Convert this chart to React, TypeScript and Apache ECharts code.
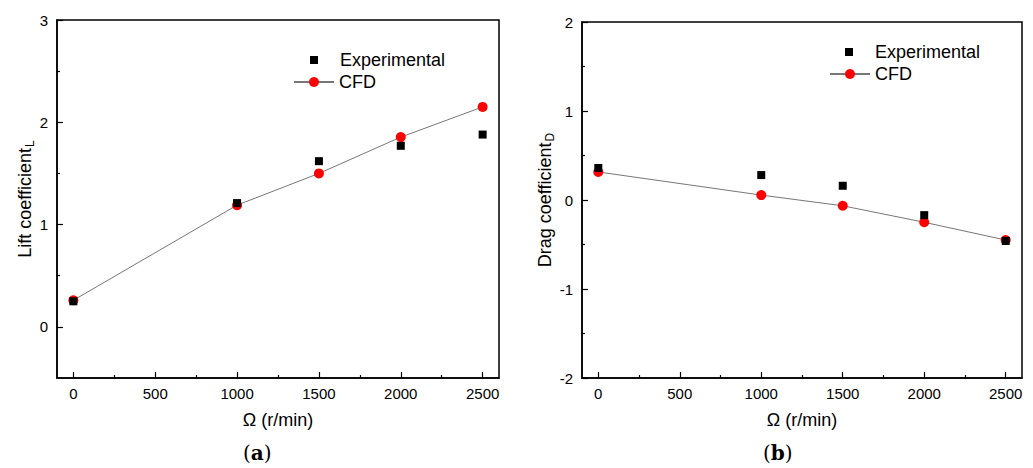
import React, { useEffect, useRef } from "react";
import * as echarts from "echarts";

const omega = [0, 1000, 1500, 2000, 2500];
const liftExp = [0.25, 1.21, 1.62, 1.77, 1.88];
const liftCfd = [0.26, 1.19, 1.5, 1.855, 2.15];
const dragExp = [0.36, 0.28, 0.16, -0.17, -0.46];
const dragCfd = [0.315, 0.055, -0.065, -0.25, -0.45];

const xTicks = [0, 500, 1000, 1500, 2000, 2500];
const xMinor = [250, 750, 1250, 1750, 2250];
const liftTicks = [0, 1, 2, 3];
const liftMinor = [0.5, 1.5, 2.5];
const dragTicks = [-2, -1, 0, 1, 2];
const dragMinor = [-1.5, -0.5, 0.5, 1.5];

const FONT = "'Liberation Sans', Arial, sans-serif";

function pairs(xs: number[], ys: number[]) {
  return xs.map((x, i) => [x, ys[i]]);
}

export default function App() {
  const ref = useRef<HTMLDivElement>(null);
  useEffect(() => {
    document.body.style.margin = "0";
    const chart = echarts.init(ref.current!, null, { renderer: "svg" });
    const plain = (v: number) => String(v);
    const majorX = (grid: number) => ({
      type: "value",
      gridIndex: grid,
      min: -100,
      max: 2600,
      name: "Ω (r/min)",
      nameLocation: "middle",
      nameGap: 33,
      nameTextStyle: { fontSize: 18, color: "#000", fontFamily: FONT },
      axisLine: { show: true, onZero: false, lineStyle: { color: "#000", width: 1.5 } },
      axisTick: { show: true, inside: true, length: 6, customValues: xTicks, lineStyle: { color: "#000", width: 1.2 } },
      axisLabel: { customValues: xTicks, formatter: plain, fontSize: 15, color: "#000", fontFamily: FONT, margin: 8 },
      splitLine: { show: false },
    });
    const minorX = (grid: number) => ({
      type: "value",
      gridIndex: grid,
      min: -100,
      max: 2600,
      position: "bottom",
      axisLine: { show: false, onZero: false },
      axisTick: { show: true, inside: true, length: 3, customValues: xMinor, lineStyle: { color: "#000", width: 1.2 } },
      axisLabel: { show: false },
      splitLine: { show: false },
    });
    const majorY = (grid: number, min: number, max: number, ticks: number[], sub: string, base: string, gap: number) => ({
      type: "value",
      gridIndex: grid,
      min,
      max,
      name: base + "{s|" + sub + "}",
      nameLocation: "middle",
      nameGap: gap,
      nameTextStyle: {
        fontSize: 18,
        color: "#000",
        fontFamily: FONT,
        rich: { s: { fontSize: 12, color: "#000", fontFamily: FONT, verticalAlign: "bottom", padding: [10, 0, 0, 1] } },
      },
      axisLine: { show: true, onZero: false, lineStyle: { color: "#000", width: 1.5 } },
      axisTick: { show: true, inside: true, length: 6, customValues: ticks, lineStyle: { color: "#000", width: 1.2 } },
      axisLabel: { customValues: ticks, formatter: plain, fontSize: 15, color: "#000", fontFamily: FONT, margin: 9 },
      splitLine: { show: false },
    });
    const minorY = (grid: number, min: number, max: number, ticks: number[]) => ({
      type: "value",
      gridIndex: grid,
      min,
      max,
      position: "left",
      axisLine: { show: false, onZero: false },
      axisTick: { show: true, inside: true, length: 3, customValues: ticks, lineStyle: { color: "#000", width: 1.2 } },
      axisLabel: { show: false },
      splitLine: { show: false },
    });
    const legendText = { fontSize: 18, color: "#000", fontFamily: FONT, rich: { g: { width: 17 } } };
    const expLegend = (left: number, top: number) => ({
      data: ["Experimental"], left, top, padding: 0, orient: "vertical", itemWidth: 8, itemHeight: 8,
      textStyle: legendText, formatter: "{g|}{name}", selectedMode: false,
    });
    const cfdLegend = (left: number, top: number) => ({
      data: ["CFD"], left, top, padding: 0, orient: "vertical", itemWidth: 40, itemHeight: 12.5,
      textStyle: { fontSize: 18, color: "#000", fontFamily: FONT }, selectedMode: false,
    });
    const option: any = {
      animation: false,
      backgroundColor: "#fff",
      grid: [
        { left: 57, right: 534, top: 20, bottom: 90, show: true, borderColor: "#000", borderWidth: 1.5, backgroundColor: "transparent" },
        { left: 582, right: 11, top: 22, bottom: 90, show: true, borderColor: "#000", borderWidth: 1.5, backgroundColor: "transparent" },
      ],
      xAxis: [majorX(0), minorX(0), majorX(1), minorX(1)],
      yAxis: [
        majorY(0, -0.5, 3, liftTicks, "L", "Lift coefficient", 21),
        minorY(0, -0.5, 3, liftMinor),
        majorY(1, -2, 2, dragTicks, "D", "Drag coefficient", 21),
        minorY(1, -2, 2, dragMinor),
      ],
      legend: [
        expLegend(310, 51),
        cfdLegend(293, 73),
        expLegend(845, 43),
        cfdLegend(829, 65),
      ],
      series: [
        {
          name: "CFD", type: "line", xAxisIndex: 0, yAxisIndex: 0, data: pairs(omega, liftCfd),
          symbol: "circle", symbolSize: 10, itemStyle: { color: "#ff0000" }, lineStyle: { color: "#777", width: 1 }, z: 2,
        },
        {
          name: "Experimental", type: "scatter", xAxisIndex: 0, yAxisIndex: 0, data: pairs(omega, liftExp),
          symbol: "rect", symbolSize: 8, itemStyle: { color: "#000", opacity: 1 }, z: 3,
        },
        {
          name: "CFD", type: "line", xAxisIndex: 2, yAxisIndex: 2, data: pairs(omega, dragCfd),
          symbol: "circle", symbolSize: 10, itemStyle: { color: "#ff0000" }, lineStyle: { color: "#777", width: 1 }, z: 2,
        },
        {
          name: "Experimental", type: "scatter", xAxisIndex: 2, yAxisIndex: 2, data: pairs(omega, dragExp),
          symbol: "rect", symbolSize: 8, itemStyle: { color: "#000", opacity: 1 }, z: 3,
        },
      ],
      graphic: [
        {
          type: "text", left: 258 - 15, top: 443,
          style: { text: "({b|a})", fontFamily: "'DejaVu Serif', serif", fontSize: 20, fill: "#000", rich: { b: { fontWeight: "bold", fontFamily: "'DejaVu Serif', serif", fontSize: 20 } } },
        },
        {
          type: "text", left: 778 - 15, top: 443,
          style: { text: "({b|b})", fontFamily: "'DejaVu Serif', serif", fontSize: 20, fill: "#000", rich: { b: { fontWeight: "bold", fontFamily: "'DejaVu Serif', serif", fontSize: 20 } } },
        },
      ],
    };
    chart.setOption(option);
    return () => chart.dispose();
  }, []);
  return <div ref={ref} style={{ width: 1033, height: 468 }} />;
}
